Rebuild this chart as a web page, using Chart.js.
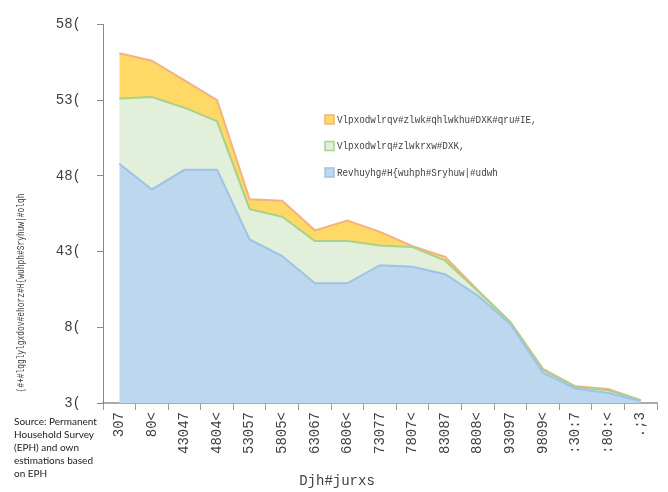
<!DOCTYPE html>
<html>
<head>
<meta charset="utf-8">
<script src="https://cdn.jsdelivr.net/npm/chart.js@4"></script>
<style>
  html, body { margin: 0; padding: 0; background: #fff; }
  .chart-box { width: 668px; height: 492px; position: relative; }
</style>
</head>
<body>
<div class="chart-box"><canvas id="chart"></canvas></div>
<script>
// age groups (as they appear in the picture)
const ageGroups = ["307", "80<", "43047", "4804<", "53057", "5805<", "63067", "6806<", "73077",
  "7807<", "83087", "8808<", "93097", "9809<", ":30:7", ":80:<", ".;3"];

// poverty rate in %
const observedRate = [15.8, 14.1, 15.4, 15.4, 10.8, 9.7, 7.9, 7.9, 9.1, 9.0, 8.5, 7.1, 5.2, 2.0, 0.95, 0.66, 0.13];
const simWithoutAUH = [20.1, 20.2, 19.5, 18.6, 12.8, 12.3, 10.7, 10.7, 10.4, 10.3, 9.4, 7.4, 5.3, 2.2, 1.05, 0.84, 0.19];
const simNeither = [23.1, 22.6, 21.3, 20.0, 13.45, 13.36, 11.4, 12.05, 11.3, 10.35, 9.65, 7.45, 5.35, 2.26, 1.1, 0.92, 0.19];

const yTickLabels = ["3(", "8(", "43(", "48(", "53(", "58("];

const seriesLabels = ["Revhuyhg#H{wuhph#Sryhuw|#udwh", "Vlpxodwlrq#zlwkrxw#DXK,", "Vlpxodwlrqv#zlwk#qhlwkhu#DXK#qru#IE,"];

const xTitle = "Djh#jurxs";
const yTitle = "(#+#lqglylgxdov#ehorz#H{wuhph#Sryhuw|#olqh";
const sourceLines = ["Source: Permanent", "Household Survey", "(EPH) and own", "estimations based", "on EPH"];

const MONO = "'Liberation Mono', 'DejaVu Sans Mono', monospace";

// legend, axis titles and source note
const extras = {
  id: "extras",
  afterDraw(chart) {
    const ctx = chart.ctx;
    ctx.save();
    // legend (reverse order, top = last dataset)
    const ds = chart.data.datasets;
    const rows = [ds[2], ds[1], ds[0]];
    rows.forEach((d, i) => {
      const y = 120 + i * 26.5;
      ctx.fillStyle = d.backgroundColor;
      ctx.strokeStyle = d.borderColor;
      ctx.lineWidth = 1.5;
      ctx.fillRect(325, y - 5, 9, 9);
      ctx.strokeRect(325, y - 5, 9, 9);
      ctx.save();
      ctx.translate(337, y);
      ctx.scale(0.84, 1);
      ctx.fillStyle = "#404040";
      ctx.font = "11px " + MONO;
      ctx.textBaseline = "middle";
      ctx.textAlign = "left";
      ctx.fillText(d.label, 0, 0);
      ctx.restore();
    });
    // x title
    ctx.font = "14px " + MONO;
    ctx.fillStyle = "#404040";
    ctx.textAlign = "center";
    ctx.textBaseline = "middle";
    ctx.fillText(xTitle, 337, 481);
    // y title
    ctx.save();
    ctx.translate(21, 293);
    ctx.rotate(-Math.PI / 2);
    ctx.scale(0.79, 1);
    ctx.font = "10px " + MONO;
    ctx.fillText(yTitle, 0, 0);
    ctx.restore();
    // source
    ctx.font = "10px Lato, 'Open Sans', sans-serif";
    ctx.fillStyle = "#222";
    ctx.textAlign = "left";
    ctx.textBaseline = "top";
    sourceLines.forEach((t, i) => ctx.fillText(t, 14, 417 + i * 13));
    ctx.restore();
  }
};

new Chart(document.getElementById("chart"), {
  type: "line",
  data: {
    labels: ageGroups,
    datasets: [
      { label: seriesLabels[0], data: observedRate, fill: "origin",
        backgroundColor: "#BDD7EE", borderColor: "#9DC3E6" },
      { label: seriesLabels[1], data: simWithoutAUH, fill: "-1",
        backgroundColor: "#E2EFDA", borderColor: "#A9D18E" },
      { label: seriesLabels[2], data: simNeither, fill: "-1",
        backgroundColor: "#FFD966", borderColor: "#F4B183" }
    ]
  },
  options: {
    responsive: true,
    maintainAspectRatio: false,
    animation: false,
    elements: { line: { borderWidth: 2, tension: 0 }, point: { radius: 0 } },
    layout: { padding: { left: 0, top: 15, right: 11, bottom: 0 } },
    plugins: { legend: { display: false }, tooltip: { enabled: false } },
    scales: {
      x: {
        offset: true,
        grid: { offset: true, drawOnChartArea: false, tickLength: 7, color: "#999" },
        border: { color: "#AAAAAA", width: 2 },
        ticks: {
          autoSkip: false, minRotation: 90, maxRotation: 90, padding: 2,
          color: "#404040", font: { family: MONO, size: 14 }
        },
        afterFit: s => { s.height = 89; }
      },
      y: {
        min: 0, max: 25,
        grid: { drawOnChartArea: false, tickLength: 6, color: "#888" },
        border: { color: "#888" },
        ticks: {
          stepSize: 5, padding: 16, color: "#404040",
          font: { family: MONO, size: 14 },
          callback: (v, i) => yTickLabels[i]
        },
        afterFit: s => { s.width = 103; }
      }
    }
  },
  plugins: [extras]
});
</script>
</body>
</html>
